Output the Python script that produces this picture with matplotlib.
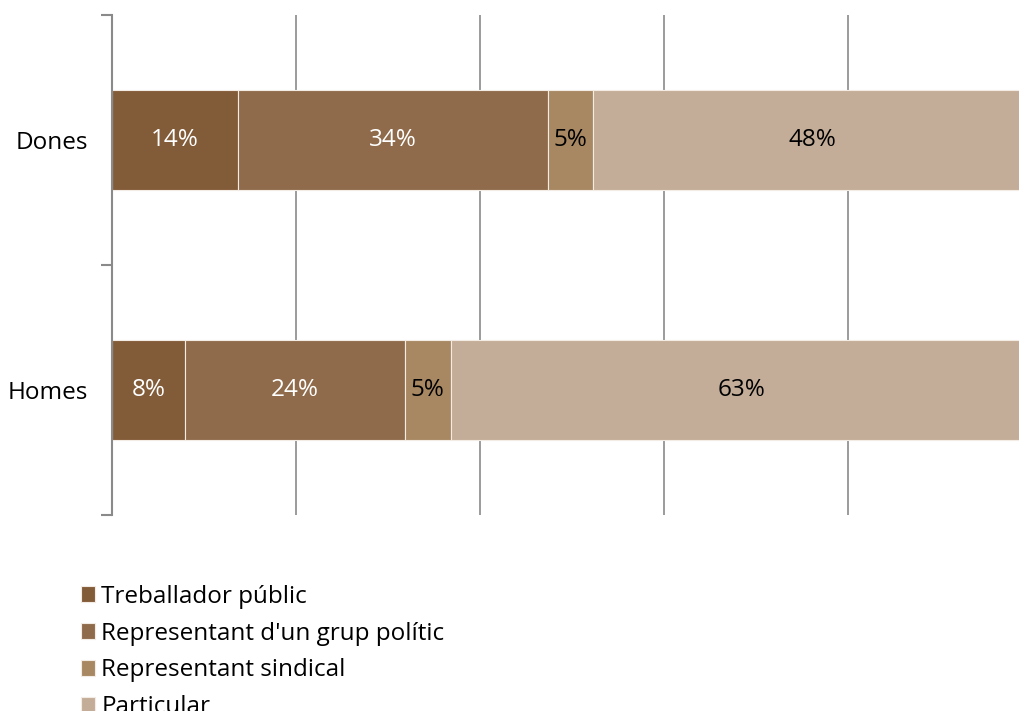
import matplotlib.pyplot as plt
import numpy as np

plt.rcParams['font.family'] = ['Open Sans', 'DejaVu Sans']

groups = ['Dones', 'Homes']
series = ['Treballador públic', "Representant d'un grup polític",
          'Representant sindical', 'Particular']
# percentatges per grup (llegits del gràfic)
treballador = [13.7, 7.9]
grup_politic = [33.7, 23.9]
sindical = [4.9, 5.0]
particular = [47.7, 63.2]

colors = ['#825b38', '#8f6b4b', '#a88862', '#c4ad98']
label_colors = ['white', 'white', 'black', 'black']

fig = plt.figure(figsize=(10.19, 7.11), dpi=100)
ax = fig.add_axes([112 / 1019, 1 - 515 / 711, 920 / 1019, 500 / 711])

y = np.arange(len(groups))
left = np.zeros(len(groups))
handles = []
for vals, name, col, lc in zip([treballador, grup_politic, sindical, particular],
                               series, colors, label_colors):
    vals = np.array(vals)
    bars = ax.barh(y, vals, left=left, height=0.4, color=col,
                   edgecolor='#f3ece5', linewidth=0.8, label=name, zorder=2)
    for yi, v, l in zip(y, vals, left):
        ax.text(l + v / 2, yi, f'{v:.0f}%', ha='center', va='center',
                color=lc, fontsize=17.5, zorder=3)
    left += vals
    handles.append(bars)

ax.set_xlim(0, 100)
ax.set_ylim(1.5, -0.5)
ax.set_xticks([20, 40, 60, 80])
ax.xaxis.grid(True, color='#8a8a8a', linewidth=1.2, zorder=0)
ax.tick_params(axis='x', length=0, labelbottom=False)

ax.set_yticks(y)
ax.set_yticklabels(groups, fontsize=17.5)
ax.set_yticks([-0.5, 0.5, 1.5], minor=True)
ax.tick_params(axis='y', which='major', length=0, pad=17)
ax.tick_params(axis='y', which='minor', length=8, width=1.5, color='#8a8a8a')

for s in ['top', 'right', 'bottom']:
    ax.spines[s].set_visible(False)
ax.spines['left'].set_color('#8a8a8a')
ax.spines['left'].set_linewidth(1.5)
ax.set_axisbelow(True)

fig.legend(handles=handles, labels=series, loc='upper left',
           bbox_to_anchor=(71 / 1019, 1 - 575 / 711), frameon=False,
           fontsize=17.5, handlelength=0.6, handleheight=0.6,
           handletextpad=0.25, labelspacing=0.53, borderaxespad=0)

fig.savefig('out.png', dpi=100)
